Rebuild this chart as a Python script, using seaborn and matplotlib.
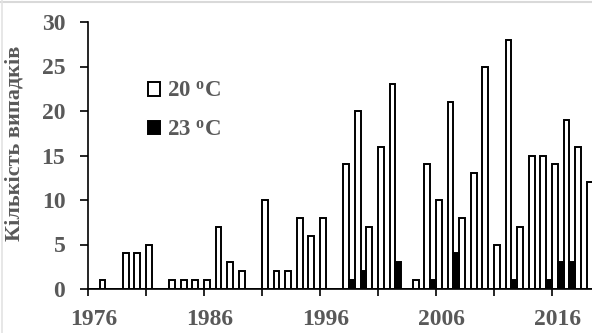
import numpy as np
import pandas as pd
import matplotlib
matplotlib.use("Agg")
import matplotlib.pyplot as plt
from matplotlib.patches import Patch
from matplotlib.lines import Line2D
import seaborn as sns

years = list(range(1976, 2020))
t20 = [0, 1, 0, 4, 4, 5, 0, 1, 1, 1, 1, 7, 3, 2, 0, 10, 2, 2, 8, 6, 8, 0,
       14, 20, 7, 16, 23, 0, 1, 14, 10, 21, 8, 13, 25, 5, 28, 7, 15, 15, 14, 19, 16, 12]
t23 = [0, 0, 0, 0, 0, 0, 0, 0, 0, 0, 0, 0, 0, 0, 0, 0, 0, 0, 0, 0, 0, 0,
       1, 2, 0, 0, 3, 0, 0, 1, 0, 4, 0, 0, 0, 0, 1, 0, 0, 1, 3, 3, 0, 0]
series = ["20", "23"]
legend_labels = ["20 $^{\\mathrm{o}}$C", "23 $^{\\mathrm{o}}$C"]
label_years = ["1976", "1986", "1996", "2006", "2016"]
ylabel = "Кількість випадків"

sns.set_theme(style="white")
plt.rcParams["font.family"] = ["Liberation Serif", "DejaVu Serif"]
plt.rcParams["font.weight"] = "bold"
plt.rcParams["mathtext.fontset"] = "custom"
plt.rcParams["mathtext.rm"] = "Liberation Serif:bold"
plt.rcParams["mathtext.it"] = "Liberation Serif:bold:italic"
plt.rcParams["mathtext.bf"] = "Liberation Serif:bold"

df = pd.DataFrame({
    "year": [str(y) for y in years] * 2,
    "value": t20 + t23,
    "series": [series[0]] * len(years) + [series[1]] * len(years),
})

gray = "#595959"
fig = plt.figure(figsize=(5.92, 3.33), dpi=100)
ax = fig.add_axes([88 / 592, 44 / 333, (592 - 88) / 592, (289 - 22) / 333])

sns.barplot(data=df, x="year", y="value", hue="series",
            order=[str(y) for y in years], hue_order=series,
            palette={"20": "white", "23": "black"},
            edgecolor="black", linewidth=1.4, width=1.0,
            dodge=True, legend=False, ax=ax, zorder=2)

ax.set_xlim(-0.5, 42.95)
ax.set_ylim(0, 30)
ax.set_yticks(np.arange(0, 31, 5))
ax.set_xticks([0, 10, 20, 30, 40], labels=label_years)
ax.set_xticks(np.arange(-0.5, 44, 5), minor=True)
ax.tick_params(axis="x", which="major", length=0, pad=14.5, labelsize=17, labelcolor=gray)
ax.tick_params(axis="x", which="minor", length=5, width=1.2, color="black", direction="out", bottom=True)
ax.tick_params(axis="y", which="major", length=5.5, width=1.2, color="black", direction="out",
               left=True, pad=10.8, labelsize=17, labelcolor=gray)
for lab in ax.get_xticklabels() + ax.get_yticklabels():
    lab.set_fontweight("bold")

for s in ["top", "right"]:
    ax.spines[s].set_visible(False)
for s in ["left", "bottom"]:
    ax.spines[s].set_color("black")
    ax.spines[s].set_linewidth(1.2)

ax.set_xlabel("")
ax.set_ylabel(ylabel, fontsize=16, fontweight="bold", color=gray)
ax.yaxis.set_label_coords((15 - 88) / 504, (289 - 143) / 267)
ax.yaxis.label.set_va("center")

handles = [Patch(facecolor="white", edgecolor="black", linewidth=1.4),
           Patch(facecolor="black", edgecolor="black", linewidth=1.4)]
leg = ax.legend(handles, legend_labels, loc="upper left",
                bbox_to_anchor=((148 - 88) / 504, (289 - 81) / 267),
                frameon=False, borderpad=0, borderaxespad=0,
                handlelength=0.52, handleheight=0.52, handletextpad=0.3,
                labelspacing=0.77, prop={"family": "Liberation Serif", "weight": "bold", "size": 16.5})
for t in leg.get_texts():
    t.set_color(gray)

fig.add_artist(Line2D([0, 1], [1 - 1.5 / 333, 1 - 1.5 / 333], color="#d9d9d9", lw=1.5))
fig.add_artist(Line2D([1.5 / 592, 1.5 / 592], [0, 1], color="#e3e3e3", lw=1.2))

fig.savefig("out.png", dpi=100)
